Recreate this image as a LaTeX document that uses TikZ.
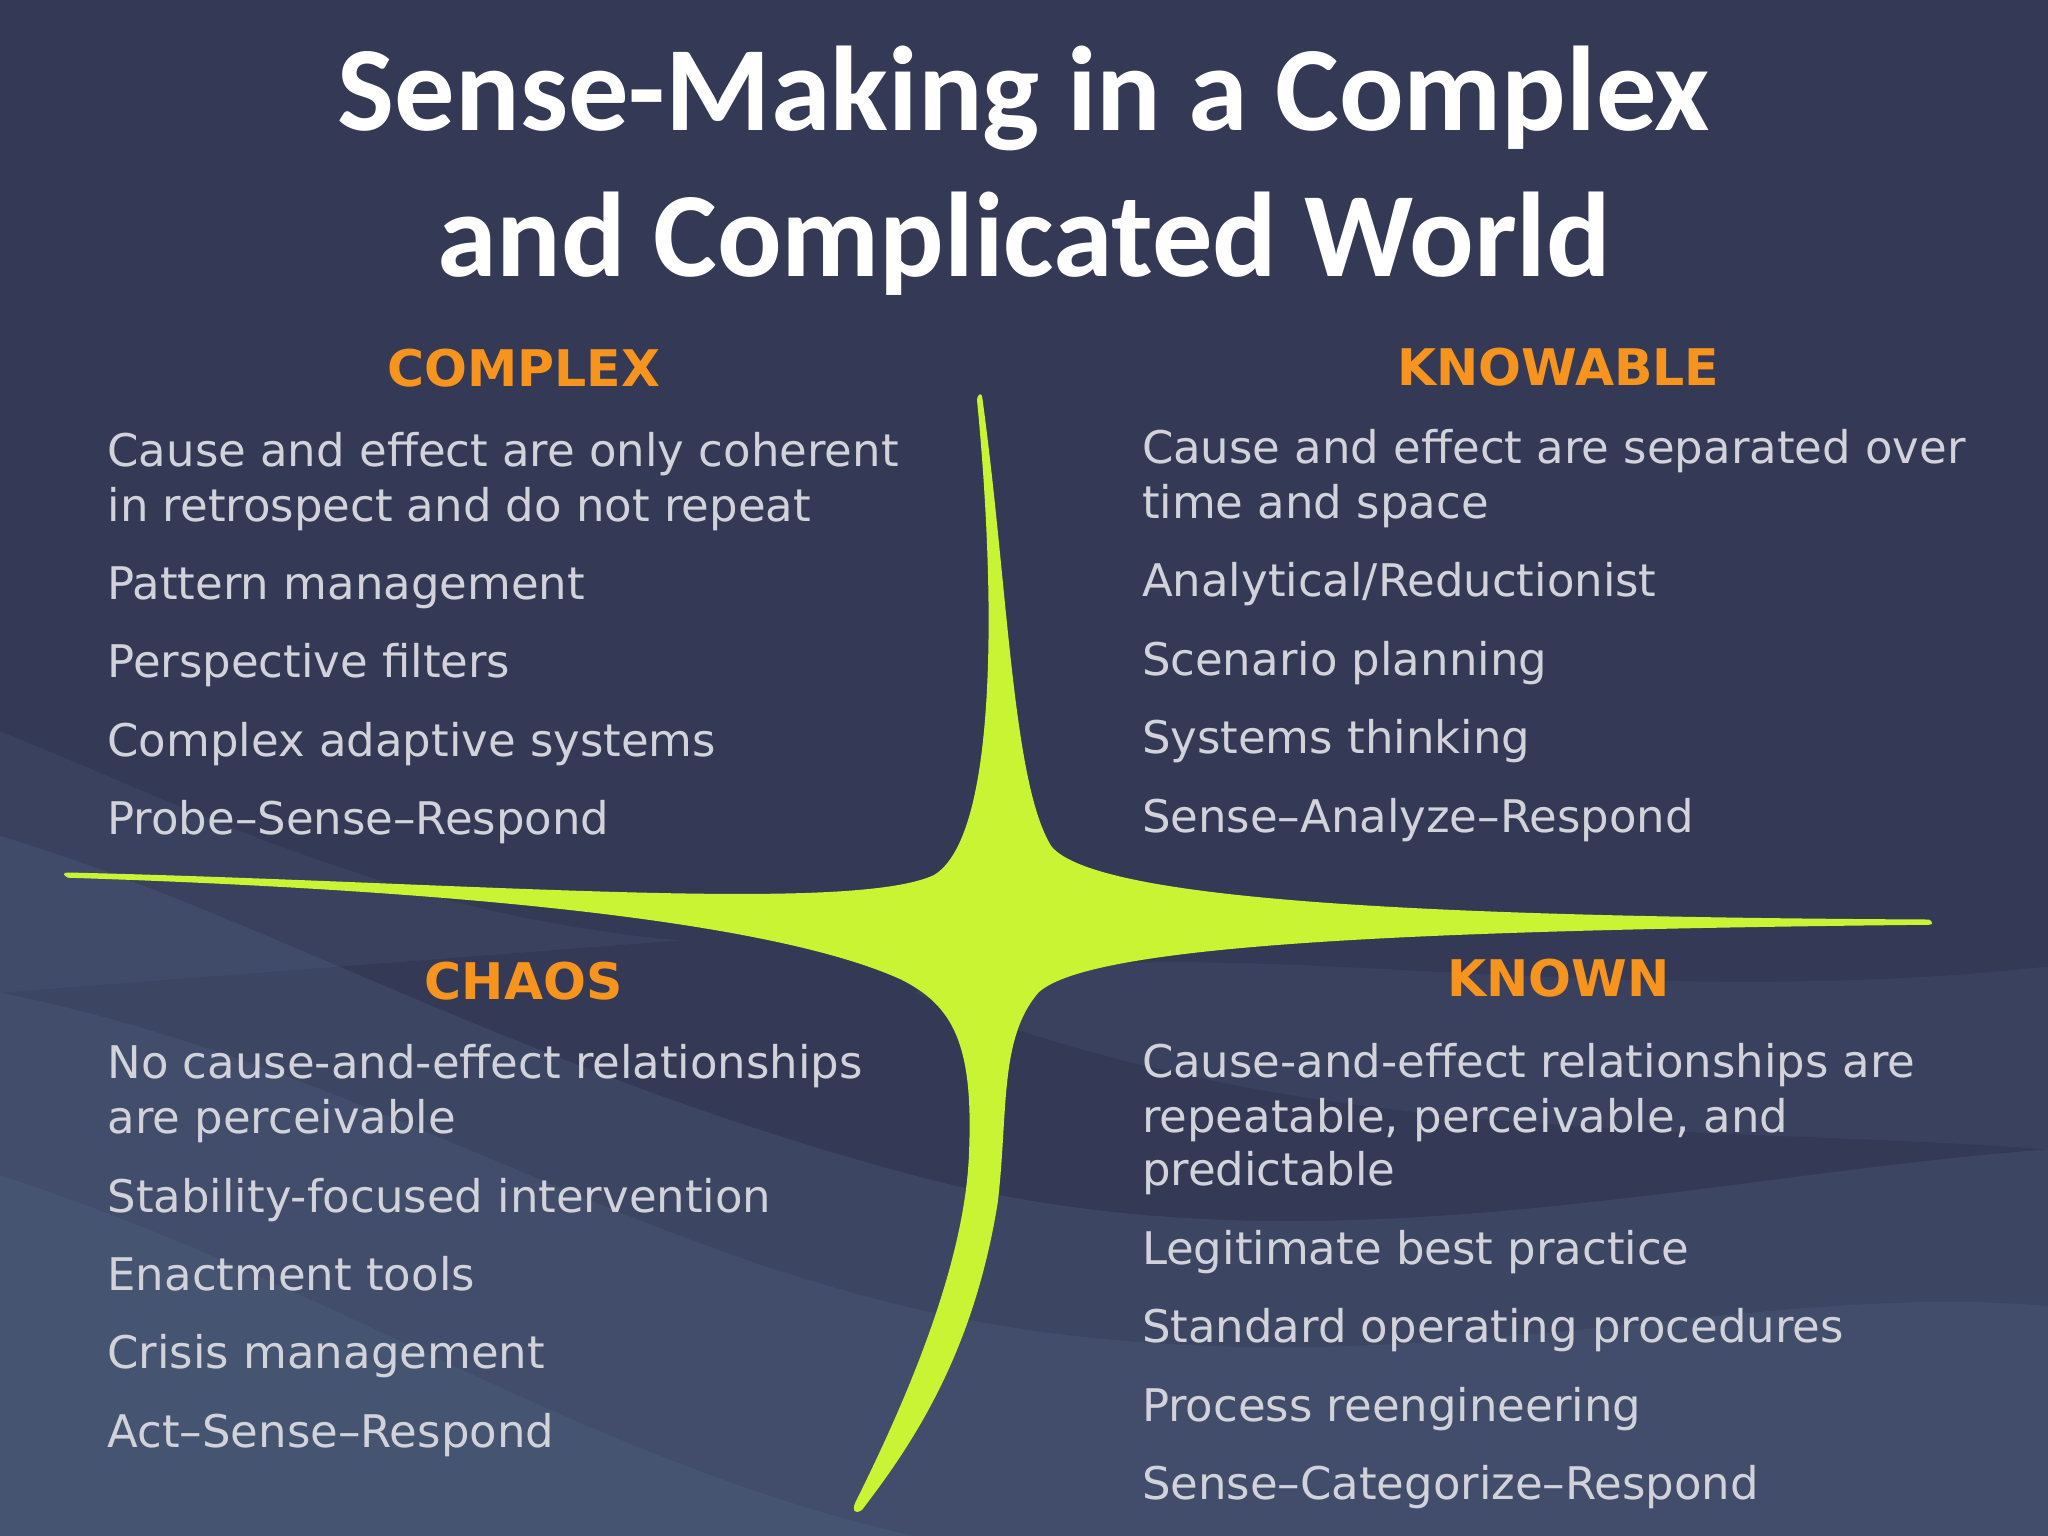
\documentclass[tikz,border=0pt]{standalone}
\usepackage{fontspec}
\setmainfont{DejaVu Sans}
\newfontfamily\titlefont{Carlito}
\definecolor{bgc}{HTML}{343A56}
\definecolor{wavec}{HTML}{6A88A8}
\definecolor{txt}{HTML}{D2D3DA}
\definecolor{orng}{HTML}{F7941D}
\definecolor{lime}{HTML}{C9F433}
\tikzset{
  body/.style={anchor=base west,inner sep=0pt,text=txt,font=\fontsize{19.6}{23}\selectfont},
  head/.style={anchor=base,inner sep=0pt,text=orng,font=\fontsize{22}{26}\bfseries\selectfont},
  ttl/.style={anchor=base,inner sep=0pt,text=white,font=\titlefont\fontsize{52.5}{58}\bfseries\selectfont},
}
\begin{document}
\begin{tikzpicture}[x=0.02cm,y=-0.02cm]
\fill[bgc] (0,0) rectangle (1568,1176);
\useasboundingbox (0,0) rectangle (1568,1176);
% background waves
\begin{scope}
\clip (0,0) rectangle (1568,1176);
\fill[wavec,opacity=0.15] (0,640) .. controls (200,700) and (400,820) .. (700,900) .. controls (1000,980) and (1300,900) .. (1568,880) -- (1568,1176) -- (0,1176) -- cycle;
\fill[wavec,opacity=0.12] (0,760) .. controls (300,820) and (500,980) .. (800,1020) .. controls (1100,1060) and (1350,980) .. (1568,1000) -- (1568,1176) -- (0,1176) -- cycle;
\fill[wavec,opacity=0.12] (0,900) .. controls (250,980) and (450,1120) .. (700,1176) -- (0,1176) -- cycle;
\fill[wavec,opacity=0.1] (700,760) .. controls (900,700) and (1200,780) .. (1568,740) -- (1568,880) .. controls (1300,860) and (1000,880) .. (700,760) -- cycle;
\fill[wavec,opacity=0.1] (0,560) .. controls (150,620) and (300,700) .. (520,720) -- (0,760) -- cycle;
\end{scope}
% star
\fill[lime] (752,304) .. controls (772,450) and (775,600) .. (805,648)
  .. controls (840,690) and (1100,702) .. (1477,704)
  .. controls (1480,706) and (1480,708) .. (1477,708)
  .. controls (1100,712) and (835,722) .. (795,760)
  .. controls (765,795) and (772,850) .. (764,920)
  .. controls (745,1040) and (695,1110) .. (660,1156)
  .. controls (654,1160) and (652,1156) .. (655,1150)
  .. controls (700,1060) and (740,960) .. (742,880)
  .. controls (745,800) and (730,770) .. (690,750)
  .. controls (580,700) and (300,680) .. (52,672)
  .. controls (48,670) and (48,668) .. (52,668)
  .. controls (350,675) and (650,700) .. (715,670)
  .. controls (765,640) and (762,450) .. (748,306)
  .. controls (748,302) and (752,300) .. (752,304) -- cycle;
% title
\node[ttl] (t1) at (784,100) {Sense-Making in a Complex};
\node[ttl] (t2) at (784,212) {and Complicated World};
% headers
\node[head] (hcx) at (401,296) {COMPLEX};
\node[head] (hkb) at (1193,295) {KNOWABLE};
\node[head] (hch) at (401,765) {CHAOS};
\node[head] (hkn) at (1193,763) {KNOWN};
% complex
\node[body] (c1) at (82,357) {Cause and effect are only coherent};
\node[body] (c2) at (82,399) {in retrospect and do not repeat};
\node[body] (c3) at (82,459) {Pattern management};
\node[body] (c4) at (82,519) {Perspective filters};
\node[body] (c5) at (82,579) {Complex adaptive systems};
\node[body] (c6) at (82,639) {Probe–Sense–Respond};
% knowable
\node[body] (k1) at (874,355) {Cause and effect are separated over};
\node[body] (k2) at (874,397) {time and space};
\node[body] (k3) at (874,457) {Analytical/Reductionist};
\node[body] (k4) at (874,517) {Scenario planning};
\node[body] (k5) at (874,577) {Systems thinking};
\node[body] (k6) at (874,637) {Sense–Analyze–Respond};
% chaos
\node[body] (h1) at (82,826) {No cause-and-effect relationships};
\node[body] (h2) at (82,868) {are perceivable};
\node[body] (h3) at (82,928) {Stability-focused intervention};
\node[body] (h4) at (82,988) {Enactment tools};
\node[body] (h5) at (82,1048) {Crisis management};
\node[body] (h6) at (82,1108) {Act–Sense–Respond};
% known
\node[body] (n1) at (874,825) {Cause-and-effect relationships are};
\node[body] (n2) at (874,867) {repeatable, perceivable, and};
\node[body] (n3) at (874,908) {predictable};
\node[body] (n4) at (874,968) {Legitimate best practice};
\node[body] (n5) at (874,1028) {Standard operating procedures};
\node[body] (n6) at (874,1088) {Process reengineering};
\node[body] (n7) at (874,1148) {Sense–Categorize–Respond};
\end{tikzpicture}
\end{document}
